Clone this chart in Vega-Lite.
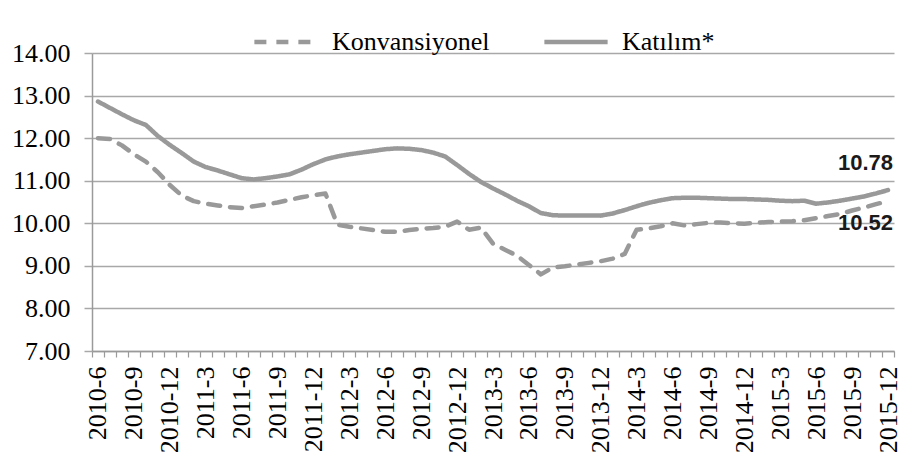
{
  "$schema": "https://vega.github.io/schema/vega-lite/v6.json",
  "width": 802,
  "height": 298,
  "autosize": {"type": "none"},
  "padding": {"left": 92, "top": 53, "right": 4, "bottom": 125},
  "background": "white",
  "config": {
    "font": "Liberation Serif",
    "view": {"stroke": null}
  },
  "data": {
    "values": [
      {"date": "2010-6", "Konvansiyonel": 12.00, "Katılım*": 12.86},
      {"date": "2010-7", "Konvansiyonel": 11.98, "Katılım*": 12.71},
      {"date": "2010-8", "Konvansiyonel": 11.83, "Katılım*": 12.56},
      {"date": "2010-9", "Konvansiyonel": 11.62, "Katılım*": 12.42},
      {"date": "2010-10", "Konvansiyonel": 11.45, "Katılım*": 12.31},
      {"date": "2010-11", "Konvansiyonel": 11.20, "Katılım*": 12.05},
      {"date": "2010-12", "Konvansiyonel": 10.90, "Katılım*": 11.84},
      {"date": "2011-1", "Konvansiyonel": 10.65, "Katılım*": 11.65},
      {"date": "2011-2", "Konvansiyonel": 10.52, "Katılım*": 11.45},
      {"date": "2011-3", "Konvansiyonel": 10.46, "Katılım*": 11.32},
      {"date": "2011-4", "Konvansiyonel": 10.42, "Katılım*": 11.24},
      {"date": "2011-5", "Konvansiyonel": 10.38, "Katılım*": 11.15},
      {"date": "2011-6", "Konvansiyonel": 10.36, "Katılım*": 11.06},
      {"date": "2011-7", "Konvansiyonel": 10.40, "Katılım*": 11.03},
      {"date": "2011-8", "Konvansiyonel": 10.44, "Katılım*": 11.06},
      {"date": "2011-9", "Konvansiyonel": 10.49, "Katılım*": 11.10},
      {"date": "2011-10", "Konvansiyonel": 10.55, "Katılım*": 11.15},
      {"date": "2011-11", "Konvansiyonel": 10.61, "Katılım*": 11.26},
      {"date": "2011-12", "Konvansiyonel": 10.66, "Katılım*": 11.39},
      {"date": "2012-1", "Konvansiyonel": 10.70, "Katılım*": 11.50},
      {"date": "2012-2", "Konvansiyonel": 9.97, "Katılım*": 11.57},
      {"date": "2012-3", "Konvansiyonel": 9.92, "Katılım*": 11.62},
      {"date": "2012-4", "Konvansiyonel": 9.88, "Katılım*": 11.66},
      {"date": "2012-5", "Konvansiyonel": 9.84, "Katılım*": 11.70},
      {"date": "2012-6", "Konvansiyonel": 9.80, "Katılım*": 11.74},
      {"date": "2012-7", "Konvansiyonel": 9.80, "Katılım*": 11.76},
      {"date": "2012-8", "Konvansiyonel": 9.84, "Katılım*": 11.75},
      {"date": "2012-9", "Konvansiyonel": 9.87, "Katılım*": 11.72},
      {"date": "2012-10", "Konvansiyonel": 9.89, "Katılım*": 11.66},
      {"date": "2012-11", "Konvansiyonel": 9.92, "Katılım*": 11.57},
      {"date": "2012-12", "Konvansiyonel": 10.04, "Katılım*": 11.37},
      {"date": "2013-1", "Konvansiyonel": 9.85, "Katılım*": 11.16},
      {"date": "2013-2", "Konvansiyonel": 9.90, "Katılım*": 10.97},
      {"date": "2013-3", "Konvansiyonel": 9.52, "Katılım*": 10.82},
      {"date": "2013-4", "Konvansiyonel": 9.38, "Katılım*": 10.68},
      {"date": "2013-5", "Konvansiyonel": 9.24, "Katılım*": 10.53},
      {"date": "2013-6", "Konvansiyonel": 9.02, "Katılım*": 10.40},
      {"date": "2013-7", "Konvansiyonel": 8.80, "Katılım*": 10.24},
      {"date": "2013-8", "Konvansiyonel": 8.96, "Katılım*": 10.19},
      {"date": "2013-9", "Konvansiyonel": 8.99, "Katılım*": 10.18},
      {"date": "2013-10", "Konvansiyonel": 9.03, "Katılım*": 10.18},
      {"date": "2013-11", "Konvansiyonel": 9.07, "Katılım*": 10.18},
      {"date": "2013-12", "Konvansiyonel": 9.11, "Katılım*": 10.18},
      {"date": "2014-1", "Konvansiyonel": 9.17, "Katılım*": 10.23},
      {"date": "2014-2", "Konvansiyonel": 9.28, "Katılım*": 10.31},
      {"date": "2014-3", "Konvansiyonel": 9.85, "Katılım*": 10.40},
      {"date": "2014-4", "Konvansiyonel": 9.88, "Katılım*": 10.48},
      {"date": "2014-5", "Konvansiyonel": 9.93, "Katılım*": 10.54},
      {"date": "2014-6", "Konvansiyonel": 10.00, "Katılım*": 10.59},
      {"date": "2014-7", "Konvansiyonel": 9.95, "Katılım*": 10.60},
      {"date": "2014-8", "Konvansiyonel": 9.98, "Katılım*": 10.60},
      {"date": "2014-9", "Konvansiyonel": 10.01, "Katılım*": 10.59},
      {"date": "2014-10", "Konvansiyonel": 10.02, "Katılım*": 10.58},
      {"date": "2014-11", "Konvansiyonel": 10.00, "Katılım*": 10.57},
      {"date": "2014-12", "Konvansiyonel": 9.99, "Katılım*": 10.57},
      {"date": "2015-1", "Konvansiyonel": 10.01, "Katılım*": 10.56},
      {"date": "2015-2", "Konvansiyonel": 10.03, "Katılım*": 10.55},
      {"date": "2015-3", "Konvansiyonel": 10.04, "Katılım*": 10.53},
      {"date": "2015-4", "Konvansiyonel": 10.05, "Katılım*": 10.52},
      {"date": "2015-5", "Konvansiyonel": 10.07, "Katılım*": 10.53},
      {"date": "2015-6", "Konvansiyonel": 10.12, "Katılım*": 10.46},
      {"date": "2015-7", "Konvansiyonel": 10.17, "Katılım*": 10.49},
      {"date": "2015-8", "Konvansiyonel": 10.22, "Katılım*": 10.53},
      {"date": "2015-9", "Konvansiyonel": 10.30, "Katılım*": 10.58},
      {"date": "2015-10", "Konvansiyonel": 10.37, "Katılım*": 10.63},
      {"date": "2015-11", "Konvansiyonel": 10.45, "Katılım*": 10.70},
      {"date": "2015-12", "Konvansiyonel": 10.52, "Katılım*": 10.78}
    ]
  },
  "transform": [
    {"fold": ["Konvansiyonel", "Katılım*"], "as": ["series", "value"]}
  ],
  "encoding": {
    "x": {
      "field": "date",
      "type": "ordinal",
      "sort": null,
      "bandPosition": 0.5,
      "scale": {"type": "band", "paddingInner": 0, "paddingOuter": 0},
      "axis": {
        "title": null,
        "tickBand": "extent",
        "ticks": true,
        "tickSize": 6,
        "tickColor": "#9a9a9a",
        "tickWidth": 1.2,
        "domainColor": "#9a9a9a",
        "domainWidth": 1.5,
        "grid": false,
        "labelAngle": 270,
        "labelFont": "Liberation Serif",
        "labelFontSize": 26,
        "labelColor": "#000000",
        "labelPadding": 9,
        "labelOverlap": false,
        "labelBound": false,
        "labelExpr": "indexof(['3','6','9','12'], split(datum.value, '-')[1]) >= 0 ? datum.value : ''"
      }
    },
    "y": {
      "field": "value",
      "type": "quantitative",
      "scale": {"domain": [7, 14], "nice": false, "zero": false},
      "axis": {
        "title": null,
        "values": [7, 8, 9, 10, 11, 12, 13, 14],
        "format": ".2f",
        "tickSize": 8,
        "tickColor": "#a8a8a8",
        "tickWidth": 1.5,
        "domainColor": "#9a9a9a",
        "domainWidth": 1.5,
        "grid": true,
        "gridColor": "#a8a8a8",
        "gridWidth": 1.5,
        "labelFont": "Liberation Serif",
        "labelFontSize": 26,
        "labelColor": "#000000",
        "labelPadding": 14
      }
    }
  },
  "layer": [
    {
      "mark": {"type": "line", "color": "#999999", "strokeWidth": 4.5, "strokeCap": "round", "strokeJoin": "round"},
      "encoding": {
        "strokeDash": {
          "field": "series",
          "type": "nominal",
          "scale": {"domain": ["Konvansiyonel", "Katılım*"], "range": [[12, 10], [1, 0]]},
          "legend": {
            "title": null,
            "orient": "none",
            "direction": "horizontal",
            "legendX": 160,
            "legendY": -45,
            "symbolType": "stroke",
            "symbolSize": 4000,
            "symbolStrokeWidth": 4.5,
            "symbolStrokeColor": "#999999",
            "labelFont": "Liberation Serif",
            "labelFontSize": 26,
            "labelColor": "#000000",
            "labelOffset": 12,
            "columnPadding": 45
          }
        }
      }
    },
    {
      "transform": [{"filter": "datum.date == '2015-12' && datum.series == 'Katılım*'"}],
      "mark": {"type": "text", "font": "Liberation Sans", "fontWeight": "bold", "fontSize": 22, "color": "#1a1a1a", "align": "right", "baseline": "alphabetic", "dx": 5, "dy": -20},
      "encoding": {"text": {"field": "value", "type": "quantitative", "format": ".2f"}}
    },
    {
      "transform": [{"filter": "datum.date == '2015-12' && datum.series == 'Konvansiyonel'"}],
      "mark": {"type": "text", "font": "Liberation Sans", "fontWeight": "bold", "fontSize": 22, "color": "#1a1a1a", "align": "right", "baseline": "alphabetic", "dx": 5, "dy": 29},
      "encoding": {"text": {"field": "value", "type": "quantitative", "format": ".2f"}}
    }
  ]
}
